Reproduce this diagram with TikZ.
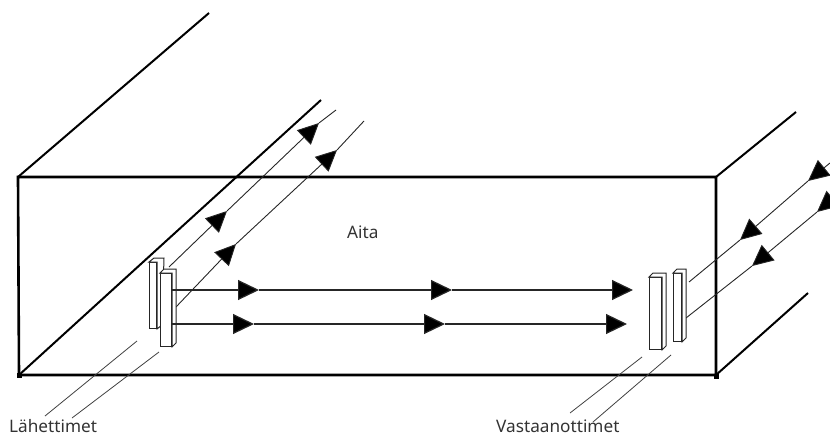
\documentclass[tikz,border=0pt]{standalone}
\usepackage{fontspec}
\setmainfont{Noto Sans}
\usepackage{xcolor}
\usepackage{tikz}
\usetikzlibrary{arrows.meta,calc}

\newcommand{\prismside}[3]{%
  \draw[prismline] (#1.north west) -- ++(#2,-4) -- ++(#3,0) -- ($(#1.north east)+(#2,-4)+(#3,0)$) -- ($(#1.south east)+(#2,-4)$) -- (#1.south east) -- (#1.north east) -- cycle;}

\begin{document}
\begin{tikzpicture}[x=1pt,y=-1pt,
  wall/.style={line width=2.6pt,black},
  post/.style={line width=2pt,black},
  beam/.style={line width=.9pt,black!85},
  pointer/.style={line width=.8pt,black!75},
  arr/.style={-{Triangle[length=21pt,width=20pt,fill=black]},line width=1.2pt,black!85},
  arrd/.style={-{Triangle[length=21pt,width=20pt,fill=black]},line width=.9pt,black!85},
  prismline/.style={draw=black!85,line width=1pt,fill=white},
  face/.style={draw=black!85,line width=1pt,fill=white,inner sep=0pt,anchor=north west},
  cornerdot/.style={fill=black,inner sep=0pt,minimum size=5pt},
  lbl/.style={anchor=base west,inner sep=0pt,font=\fontsize{17.2}{19}\selectfont,text=black!80}]
\useasboundingbox (0,0) rectangle (830,436);

\coordinate (nw) at (18,177);
\coordinate (ne) at (716,177);
\coordinate (sw) at (19,375);
\coordinate (se) at (716,375);
\coordinate (nwb) at (209,13);
\coordinate (swb) at (321,100);
\coordinate (neb) at (796,112);
\coordinate (seb) at (808,293);

% fence
\draw[wall] (nw) -- (ne) -- (se) -- (sw) -- cycle;
\draw[post] (nw) -- (nwb);
\draw[post] (sw) -- (swb);
\draw[post] (ne) -- (neb);
\draw[post] (se) -- (seb);
\node[cornerdot] (dotsw) at (sw) {};
\node[cornerdot] (dotse) at (716,376) {};

% beams behind
\coordinate (ta) at (169,267);
\coordinate (tb) at (176,307);
\coordinate (tahead) at (227,211);
\coordinate (tatip) at (319,123);
\coordinate (taend) at (336,110);
\coordinate (tbhead) at (236,244);
\coordinate (tbtip) at (337,150);
\coordinate (tbend) at (364,121);
\draw[arrd] (ta) -- (tahead);
\draw[arrd] (tahead) -- (tatip);
\draw[beam] (tatip) -- (taend);
\draw[arrd] (tb) -- (tbhead);
\draw[arrd] (tbhead) -- (tbtip);
\draw[beam] (tbtip) -- (tbend);

\coordinate (ra) at (689,282);
\coordinate (rb) at (686,318);
\coordinate (rahead) at (740,240);
\coordinate (ratip) at (808,181);
\coordinate (raend) at (830,163);
\coordinate (rbhead) at (752,266);
\coordinate (rbtip) at (817,212);
\coordinate (rbend) at (830,201);
\draw[arrd] (raend) -- (ratip);
\draw[arrd] (ratip) -- (rahead);
\draw[beam] (rahead) -- (ra);
\draw[arrd] (rbend) -- (rbtip);
\draw[arrd] (rbtip) -- (rbhead);
\draw[beam] (rbhead) -- (rb);

% transmitters
\node[face,minimum width=7pt,minimum height=66pt] (txa) at (149,262) {};
\prismside{txa}{5}{2}
\node[face,minimum width=11pt,minimum height=73pt] (txb) at (160,273) {};
\prismside{txb}{4}{0}

% receivers
\node[face,minimum width=12pt,minimum height=72pt] (rxa) at (649,277) {};
\prismside{rxa}{4}{0}
\node[face,minimum width=8pt,minimum height=68pt] (rxb) at (673,273) {};
\prismside{rxb}{4}{0}

% horizontal beams
\coordinate (hahead) at (259,290);
\coordinate (hamid) at (452,290);
\coordinate (haend) at (633,290);
\coordinate (hbhead) at (254,324);
\coordinate (hbmid) at (445,324);
\coordinate (hbend) at (627,324);
\draw[arr] (txb.east |- hahead) -- (hahead);
\draw[arr] (hahead) -- (hamid);
\draw[arr] (hamid) -- (haend);
\draw[arr] (txb.east |- hbhead) -- (hbhead);
\draw[arr] (hbhead) -- (hbmid);
\draw[arr] (hbmid) -- (hbend);

% pointers to the labels
\coordinate (pa) at (45,416);
\coordinate (pb) at (137,341);
\coordinate (pc) at (72,418);
\coordinate (pd) at (159,352);
\coordinate (pe) at (570,413);
\coordinate (pf) at (642,357);
\coordinate (pg) at (593,422);
\coordinate (ph) at (671,355);
\draw[pointer] (pa) -- (pb);
\draw[pointer] (pc) -- (pd);
\draw[pointer] (pe) -- (pf);
\draw[pointer] (pg) -- (ph);

\node[lbl] (aita) at (347,238) {Aita};
\node[lbl] (tx) at (9,432) {Lähettimet};
\node[lbl] (rx) at (496,432) {Vastaanottimet};
\end{tikzpicture}
\end{document}
